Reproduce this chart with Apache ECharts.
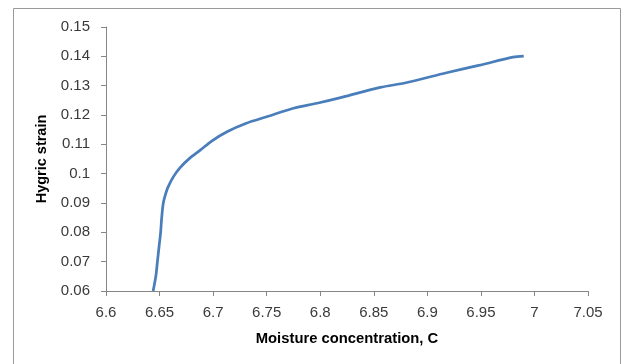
<!DOCTYPE html>
<html>
<head>
<meta charset="utf-8">
<script src="https://cdn.jsdelivr.net/npm/echarts@6/dist/echarts.min.js"></script>
<style>html,body{margin:0;padding:0;background:#fff;}#c{width:623px;height:364px;}</style>
</head>
<body>
<div id="c"></div>
<script>
var moisture = [6.644, 6.6465, 6.648, 6.6495, 6.651, 6.652, 6.6535, 6.656, 6.658, 6.663, 6.669, 6.678, 6.688, 6.699, 6.713, 6.731, 6.75, 6.775, 6.797, 6.82, 6.856, 6.88, 6.918, 6.949, 6.98, 6.99];
var strain   = [0.060, 0.065, 0.070, 0.075, 0.080, 0.085, 0.090, 0.0935, 0.0955, 0.099, 0.102, 0.1052, 0.108, 0.1112, 0.1143, 0.1172, 0.1194, 0.1223, 0.1240, 0.1260, 0.1294, 0.1310, 0.1344, 0.1370, 0.1397, 0.1401];
var xTicks = [6.6, 6.65, 6.7, 6.75, 6.8, 6.85, 6.9, 6.95, 7, 7.05];
var yTicks = [0.06, 0.07, 0.08, 0.09, 0.1, 0.11, 0.12, 0.13, 0.14, 0.15];

var pts = moisture.map(function (x, i) { return [x, strain[i]]; });
var chart = echarts.init(document.getElementById('c'), null, {renderer: 'canvas'});
var labelFont = {color: '#3a3a3a', fontFamily: 'Liberation Sans', fontSize: 15};
chart.setOption({
  animation: false,
  backgroundColor: '#fff',
  graphic: [{
    type: 'rect', shape: {x: 13.5, y: 8.5, width: 607, height: 400},
    style: {fill: 'none', stroke: '#9a9a9a', lineWidth: 1}, silent: true
  }],
  grid: {left: 106, right: 35, top: 27, bottom: 73, containLabel: false},
  xAxis: {
    type: 'value', min: 6.6, max: 7.05, interval: 0.05,
    name: 'Moisture concentration, C', nameLocation: 'middle', nameGap: 40,
    nameTextStyle: {fontFamily: 'Liberation Sans', fontWeight: 'bold', fontSize: 14.8, color: '#000'},
    axisLine: {show: true, lineStyle: {color: '#868686', width: 1}},
    axisTick: {show: true, length: 5, lineStyle: {color: '#868686'}},
    splitLine: {show: false},
    axisLabel: Object.assign({margin: 14, showMinLabel: true, showMaxLabel: true,
      formatter: function (v) { var m = xTicks.find(function (t) { return Math.abs(t - v) < 1e-9; }); return m !== undefined ? String(m) : ''; }}, labelFont)
  },
  yAxis: {
    type: 'value', min: 0.06, max: 0.15, interval: 0.01,
    name: 'Hygric strain', nameLocation: 'middle', nameGap: 54,
    nameTextStyle: {fontFamily: 'Liberation Sans', fontWeight: 'bold', fontSize: 14.5, color: '#000'},
    axisLine: {show: true, lineStyle: {color: '#868686', width: 1}},
    axisTick: {show: true, length: 5, lineStyle: {color: '#868686'}},
    splitLine: {show: false},
    axisLabel: Object.assign({margin: 16, showMinLabel: true, showMaxLabel: true,
      formatter: function (v) { var m = yTicks.find(function (t) { return Math.abs(t - v) < 1e-9; }); return m !== undefined ? String(m) : ''; }}, labelFont)
  },
  series: [{
    type: 'line', data: pts, showSymbol: false, smooth: 0.3, clip: true,
    lineStyle: {color: '#4a7ebb', width: 2.75}
  }]
});
</script>
</body>
</html>
